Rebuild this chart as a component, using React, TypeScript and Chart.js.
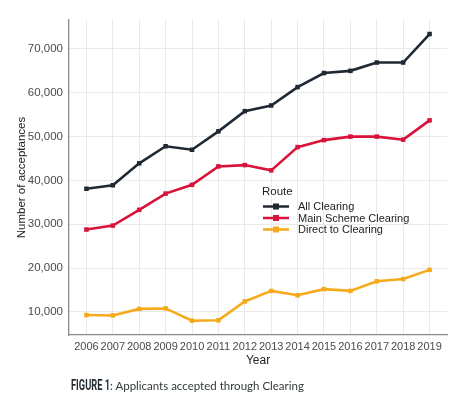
import React, { useEffect, useRef } from "react";
import { Chart, registerables } from "chart.js";

Chart.register(...registerables);

const years = [2006, 2007, 2008, 2009, 2010, 2011, 2012, 2013, 2014, 2015, 2016, 2017, 2018, 2019];
const allClearing = [38100, 38900, 43900, 47800, 47000, 51200, 55800, 57100, 61300, 64500, 65000, 66900, 66900, 73400];
const mainScheme = [28800, 29700, 33300, 37000, 39000, 43200, 43500, 42300, 47600, 49200, 50000, 50000, 49300, 53700];
const directToClearing = [9300, 9200, 10700, 10800, 8000, 8100, 12400, 14800, 13800, 15200, 14800, 17000, 17500, 19600];
const yTicks = [10000, 20000, 30000, 40000, 50000, 60000, 70000];
const seriesNames = ["All Clearing", "Main Scheme Clearing", "Direct to Clearing"];
const seriesColors = ["#1f2933", "#d9123a", "#f5aa1c"];
const legendTitle = "Route";
const xTitle = "Year";
const yTitle = "Number of acceptances";

const legendPlugin = {
  id: "routeLegend",
  afterDraw(chart: any) {
    const { ctx, chartArea } = chart;
    const x0 = chartArea.left + 193;
    const y0 = chartArea.top + 172;
    ctx.save();
    ctx.font = "11.5px 'Liberation Sans', Arial, sans-serif";
    ctx.fillStyle = "#222";
    ctx.textBaseline = "middle";
    ctx.textAlign = "left";
    ctx.fillText(legendTitle, x0, y0);
    seriesNames.forEach((name, i) => {
      const y = y0 + 14.5 + i * 11.5;
      ctx.strokeStyle = seriesColors[i];
      ctx.lineWidth = 2.5;
      ctx.beginPath();
      ctx.moveTo(x0 + 1, y);
      ctx.lineTo(x0 + 27, y);
      ctx.stroke();
      ctx.fillStyle = seriesColors[i];
      ctx.fillRect(x0 + 11, y - 3, 6, 6);
      ctx.fillStyle = "#222";
      ctx.font = "11px 'Liberation Sans', Arial, sans-serif";
      ctx.fillText(name, x0 + 36, y + 0.5);
    });
    ctx.restore();
  },
};

export default function App() {
  const ref = useRef<HTMLCanvasElement>(null);
  useEffect(() => {
    document.body.style.margin = "0";
    const data = [allClearing, mainScheme, directToClearing];
    const chart = new Chart(ref.current!, {
      type: "line",
      data: {
        datasets: data.map((arr, i) => ({
          label: seriesNames[i],
          data: arr.map((v, j) => ({ x: years[j], y: v })),
          borderColor: seriesColors[i],
          backgroundColor: seriesColors[i],
          borderWidth: 2.6,
          pointStyle: "rect",
          pointRadius: 3.2,
          pointBorderWidth: 0,
          tension: 0,
        })),
      },
      options: {
        responsive: false,
        animation: false,
        events: [],
        layout: { padding: { left: 11, right: 14, top: 20, bottom: 33 } },
        plugins: { legend: { display: false }, tooltip: { enabled: false } },
        scales: {
          x: {
            type: "linear",
            min: 2005.34,
            max: 2019.66,
            afterFit: (s: any) => { s.height = 35; },
            afterBuildTicks: (s: any) => { s.ticks = years.map((v) => ({ value: v })); },
            ticks: {
              autoSkip: false,
              maxRotation: 0,
              padding: 5,
              color: "#4a4a4a",
              font: { family: "'Liberation Sans', Arial, sans-serif", size: 11 },
              callback: (v: any) => String(v),
            },
            grid: { color: "#e9e9e9", lineWidth: 1, drawTicks: false },
            border: { color: "#8a8a8a", width: 1.3 },
            title: {
              display: true,
              text: xTitle,
              color: "#222",
              padding: { top: 0, bottom: 2 },
              font: { family: "'Liberation Sans', Arial, sans-serif", size: 12 },
            },
          },
          y: {
            type: "linear",
            min: 4740,
            max: 76600,
            afterFit: (s: any) => { s.width = 58; },
            afterBuildTicks: (s: any) => { s.ticks = yTicks.map((v) => ({ value: v })); },
            ticks: {
              autoSkip: false,
              padding: 6,
              color: "#4a4a4a",
              font: { family: "'Liberation Sans', Arial, sans-serif", size: 11.5 },
              callback: (v: any) => Number(v).toLocaleString("en-US"),
            },
            grid: { color: "#e9e9e9", lineWidth: 1, drawTicks: false },
            border: { color: "#8a8a8a", width: 1.3 },
            title: {
              display: true,
              text: yTitle,
              color: "#222",
              font: { family: "'Liberation Sans', Arial, sans-serif", size: 11.5 },
            },
          },
        },
      },
      plugins: [legendPlugin],
    });
    return () => chart.destroy();
  }, []);

  return (
    <div style={{ position: "relative", width: 461, height: 403, background: "#fff" }}>
      <canvas ref={ref} width={461} height={403} style={{ display: "block" }} />
      <span
        style={{
          position: "absolute",
          left: 71,
          top: 377,
          lineHeight: "17px",
          whiteSpace: "nowrap",
          fontFamily: "Roboto, 'DejaVu Sans', sans-serif",
          fontWeight: "bold",
          fontSize: 14.5,
          color: "#1f2a30",
          display: "inline-block",
          transform: "scaleX(0.64)",
          transformOrigin: "left center",
        }}
      >
        FIGURE 1
      </span>
      <span
        style={{
          position: "absolute",
          left: 110,
          top: 378,
          lineHeight: "16px",
          whiteSpace: "nowrap",
          fontFamily: "Lato, sans-serif",
          fontSize: 11.5,
          color: "#333a3a",
        }}
      >
        : Applicants accepted through Clearing
      </span>
    </div>
  );
}
